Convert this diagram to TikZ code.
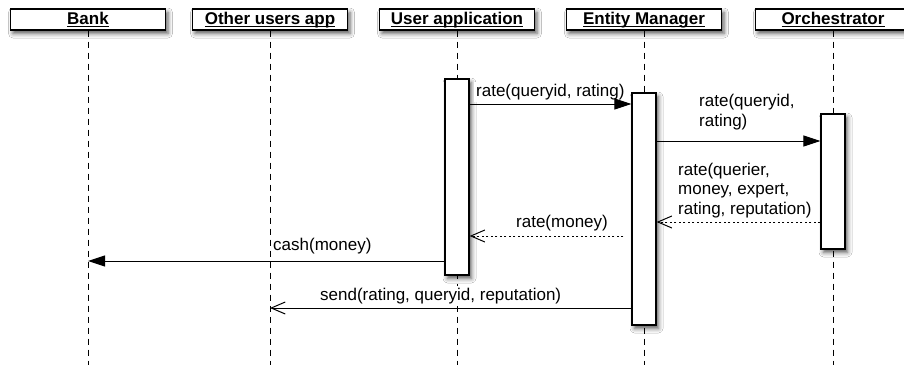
\documentclass[tikz,border=0pt]{standalone}
\usepackage{fontspec}
\setmainfont{Liberation Sans}
\usetikzlibrary{arrows.meta,shadows.blur}
\newcommand{\hdul}[1]{\underline{\raisebox{0pt}[\height][0pt]{#1}}}
\begin{document}
\begin{tikzpicture}[x=1pt,y=-1pt,
  txt/.style={font=\fontsize{17}{19.5}\selectfont},
  boxshadow/.style={blur shadow={shadow xshift=2.5pt, shadow yshift=-3.5pt, shadow blur radius=4.5pt, shadow opacity=65}},
  header/.style={draw, line width=1.2pt, fill=white, minimum width=155pt, minimum height=21pt, inner sep=0pt,
    font=\fontsize{17}{19.5}\selectfont\bfseries, boxshadow},
  act/.style={draw, line width=1.2pt, fill=white, minimum width=24pt, inner sep=0pt, boxshadow},
  lifeline/.style={line width=1pt, dash pattern=on 6pt off 5pt},
  lbl/.style={txt, fill=white, inner sep=2pt, anchor=base west, align=left},
  syncmsg/.style={line width=1pt, -{Triangle[length=17pt,width=11pt]}},
  retmsg/.style={line width=1pt, dash pattern=on 2pt off 2.5pt, -{Straight Barb[length=14pt,width=12pt,line width=1pt]}},
  asyncmsg/.style={line width=1pt, -{Straight Barb[length=14pt,width=12pt,line width=1pt]}}
]
\useasboundingbox (0,0) rectangle (904,365);
\fill[white] (0,0) rectangle (904,365);

% headers and lifelines
\coordinate (bot) at (0,365);
\node[header] (bank) at (88,19.5) {\hdul{Bank}};
\node[header] (other) at (270,19.5) {\hdul{Other users app}};
\node[header] (user) at (457,19.5) {\hdul{User application}};
\node[header] (em) at (644,19.5) {\hdul{Entity Manager}};
\node[header] (orch) at (833,19.5) {\hdul{Orchestrator}};
\foreach \n in {bank,other,user,em,orch}
  \draw[lifeline] (\n.south) -- (\n.south |- bot);

% activation boxes
\node[act, minimum height=196pt] (uaAct) at (457,177) {};
\node[act, minimum height=232pt] (emAct) at (644,209) {};
\node[act, minimum height=135pt] (orAct) at (833,181.5) {};

% message rows
\coordinate (m1) at (0,104);
\coordinate (m2) at (0,141);
\coordinate (m3) at (0,222);
\coordinate (m4) at (0,236);
\coordinate (m5) at (0,261);
\coordinate (m6) at (0,308);

% labels
\node[lbl] (l1) at (474,96) {rate(queryid, rating)};
\node[lbl] (l2) at (697,126) {rate(queryid,\\rating)};
\node[lbl] (l3) at (676,214) {rate(querier,\\money, expert,\\rating, reputation)};
\node[lbl] (l4) at (514,227) {rate(money)};
\node[lbl] (l5) at (271,250) {cash(money)};
\node[lbl] (l6) at (318,300) {send(rating, queryid, reputation)};

% messages
\draw[syncmsg] (uaAct.east |- m1) -- (emAct.west |- m1);
\draw[syncmsg] (emAct.east |- m2) -- (orAct.west |- m2);
\draw[retmsg] (orAct.west |- m3) -- (emAct.east |- m3);
\draw[retmsg] ([xshift=-8pt]emAct.west |- m4) -- (uaAct.east |- m4);
\draw[syncmsg] (uaAct.west |- m5) -- (bank.south |- m5);
\draw[asyncmsg] (emAct.west |- m6) -- (other.south |- m6);
\end{tikzpicture}
\end{document}
